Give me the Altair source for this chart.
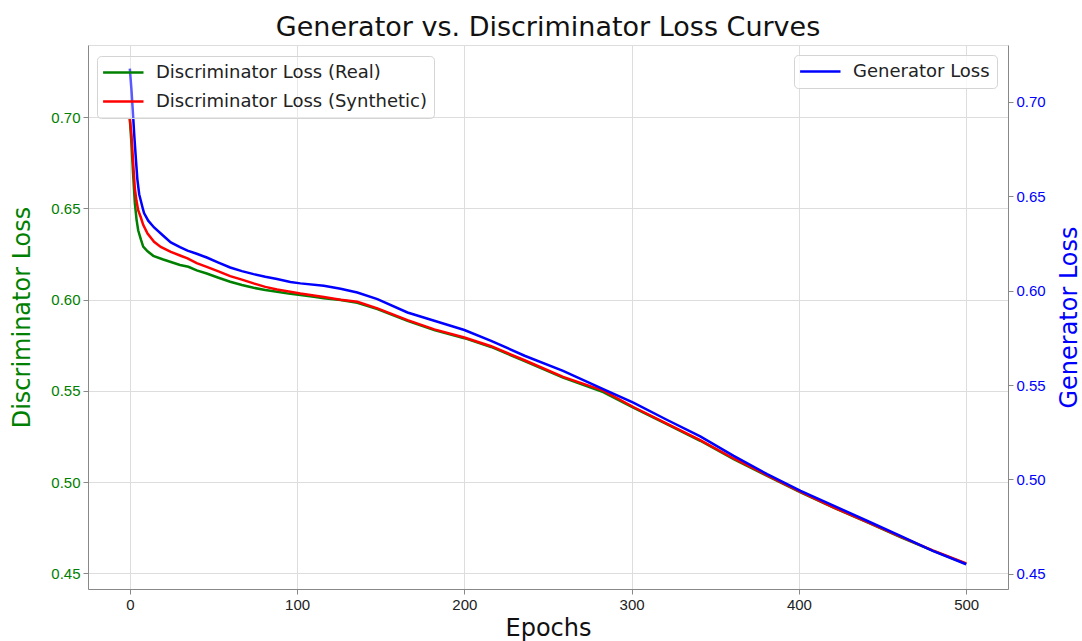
import altair as alt
import pandas as pd

# ---- data ----
real_epochs = [0, 1, 2, 3, 4, 5, 6.6, 8, 10.6, 14, 20, 25, 30, 35, 40, 46, 53, 60, 67, 74, 81, 88, 95,
               102, 110, 116, 126, 136, 148, 166, 182, 200, 216, 236, 259, 283, 301, 321, 341, 361,
               381, 401, 421, 441, 461, 480, 500]
real_loss = [0.699, 0.685, 0.668, 0.653, 0.644, 0.638, 0.633, 0.629, 0.6265, 0.624, 0.622, 0.6205,
             0.619, 0.618, 0.616, 0.6143, 0.612, 0.6098, 0.608, 0.6065, 0.6053, 0.6043, 0.6033, 0.6025,
             0.6016, 0.6008, 0.5998, 0.5983, 0.5948, 0.5884, 0.5833, 0.5789, 0.5741, 0.5664, 0.5573,
             0.5494, 0.5409, 0.5318, 0.5227, 0.5127, 0.5035, 0.4944, 0.4859, 0.4780, 0.4698, 0.4625, 0.4553]

syn_epochs = [0, 1, 2, 3, 4, 5, 6.6, 8, 10.6, 14.5, 18.5, 24.5, 30, 34.5, 40, 46, 53, 60, 67, 74, 81, 88,
              95, 102, 116, 126, 136, 148, 166, 182, 200, 216, 236, 259, 283, 301, 321, 341, 361, 381,
              401, 421, 441, 461, 480, 500]
syn_loss = [0.699, 0.690, 0.675, 0.661, 0.654, 0.649, 0.645, 0.641, 0.6362, 0.6317, 0.6289, 0.6262,
            0.6242, 0.6226, 0.620, 0.618, 0.6155, 0.6129, 0.611, 0.6089, 0.607, 0.6056, 0.6045, 0.6034,
            0.6015, 0.600, 0.5988, 0.5952, 0.5888, 0.5837, 0.5793, 0.5745, 0.5668, 0.5577, 0.5502,
            0.5412, 0.5321, 0.5230, 0.5130, 0.5038, 0.4947, 0.4861, 0.4782, 0.4700, 0.4627, 0.4555]

gen_epochs = [0, 1, 2, 2.6, 3.6, 4.5, 5.6, 7.6, 8.5, 11, 14.5, 20, 24.5, 30, 34.5, 40, 46, 53, 60, 67,
              74, 81, 88, 96, 102, 116, 126, 136, 148, 166, 182, 200, 216, 236, 259, 283, 301, 321,
              341, 361, 381, 401, 421, 441, 461, 480, 500]
gen_loss = [0.7175, 0.706, 0.692, 0.683, 0.670, 0.659, 0.651, 0.644, 0.641, 0.637, 0.6334, 0.629,
            0.6255, 0.623, 0.6211, 0.6195, 0.6175, 0.6148, 0.6122, 0.6103, 0.6087, 0.6073, 0.6061,
            0.6045, 0.6038, 0.6025, 0.601, 0.599, 0.5955, 0.5884, 0.584, 0.5791, 0.5734, 0.5655,
            0.5575, 0.5478, 0.5407, 0.5316, 0.5228, 0.5125, 0.5028, 0.494, 0.486, 0.478, 0.470,
            0.4622, 0.4551]

x_ticks = [0, 100, 200, 300, 400, 500]
y_ticks = [0.45, 0.50, 0.55, 0.60, 0.65, 0.70]

REAL = "Discriminator Loss (Real)"
SYN = "Discriminator Loss (Synthetic)"
GEN = "Generator Loss"

disc_df = pd.concat([
    pd.DataFrame({"epoch": real_epochs, "loss": real_loss, "series": REAL}),
    pd.DataFrame({"epoch": syn_epochs, "loss": syn_loss, "series": SYN}),
])
gen_df = pd.DataFrame({"epoch": gen_epochs, "loss": gen_loss, "series": GEN})

FONT = "DejaVu Sans"
x_enc = alt.X("epoch:Q",
              scale=alt.Scale(domain=[-25, 525], nice=False, zero=False),
              axis=alt.Axis(values=x_ticks, title="Epochs", grid=True, format="d",
                            titleFontSize=24, titleFont=FONT, titleFontWeight="normal",
                            titleColor="#111", titleX=460, titleY=39, titleBaseline="middle",
                            labelFontSize=15, labelColor="#222", labelPadding=3))

legend_common = dict(
    orient="none", title=None, symbolType="M-1.3,0L3.75,0", symbolSize=256,
    symbolStrokeWidth=2.5, labelFontSize=18, labelFont=FONT, labelColor="#222",
    padding=7, rowPadding=10, labelOffset=33, strokeColor="#d4d4d4",
    cornerRadius=4, labelLimit=400,
)

disc = alt.Chart(disc_df).mark_line(strokeWidth=2.5).encode(
    x=x_enc,
    y=alt.Y("loss:Q",
            scale=alt.Scale(domain=[0.4415, 0.7395], nice=False, zero=False),
            axis=alt.Axis(values=y_ticks, format=".2f", title="Discriminator Loss", grid=True,
                          orient="left", titleFontSize=24, titleFont=FONT,
                          titleFontWeight="normal", titleColor="#008000", titleAngle=270,
                          titleX=-66, titleY=272, titleBaseline="middle",
                          labelColor="#008000", labelFontSize=15, labelPadding=3)),
    color=alt.Color("series:N",
                    scale=alt.Scale(domain=[REAL, SYN], range=["#008000", "#ff0000"]),
                    legend=alt.Legend(legendX=9, legendY=11,
                                      fillColor="rgba(255,255,255,0.35)", **legend_common)),
)

gen = alt.Chart(gen_df).mark_line(strokeWidth=2.5).encode(
    x=x_enc,
    y=alt.Y("loss:Q",
            scale=alt.Scale(domain=[0.442, 0.730], nice=False, zero=False),
            axis=alt.Axis(values=y_ticks, format=".2f", title="Generator Loss", grid=False,
                          orient="right", titleFontSize=24, titleFont=FONT,
                          titleFontWeight="normal", titleColor="#0000ff", titleAngle=270,
                          titleX=61, titleY=272, titleBaseline="middle",
                          labelColor="#0000ff", labelFontSize=15, labelPadding=3)),
    color=alt.Color("series:N",
                    scale=alt.Scale(domain=[GEN], range=["#0000ff"]),
                    legend=alt.Legend(legendX=706, legendY=10,
                                      fillColor="rgba(255,255,255,0.8)", **legend_common)),
)

chart = alt.layer(disc, gen).resolve_scale(
    y="independent", color="independent"
).resolve_legend(color="independent").properties(
    width=920, height=544,
    autosize=alt.AutoSizeParams(type="none"),
    padding={"left": 88, "top": 45, "right": 74, "bottom": 52},
    title=alt.TitleParams("Generator vs. Discriminator Loss Curves", fontSize=27, font=FONT,
                          fontWeight="normal", color="#111", anchor="middle", offset=3),
).configure_view(
    stroke="#333", strokeWidth=1.2
).configure_axis(
    domain=False, tickColor="#333", tickSize=5, tickWidth=1, gridColor="#cccccc",
    gridWidth=1, labelFont=FONT
).configure(background="white")

chart.save("out.html", embed_options={"renderer": "svg", "actions": False})
